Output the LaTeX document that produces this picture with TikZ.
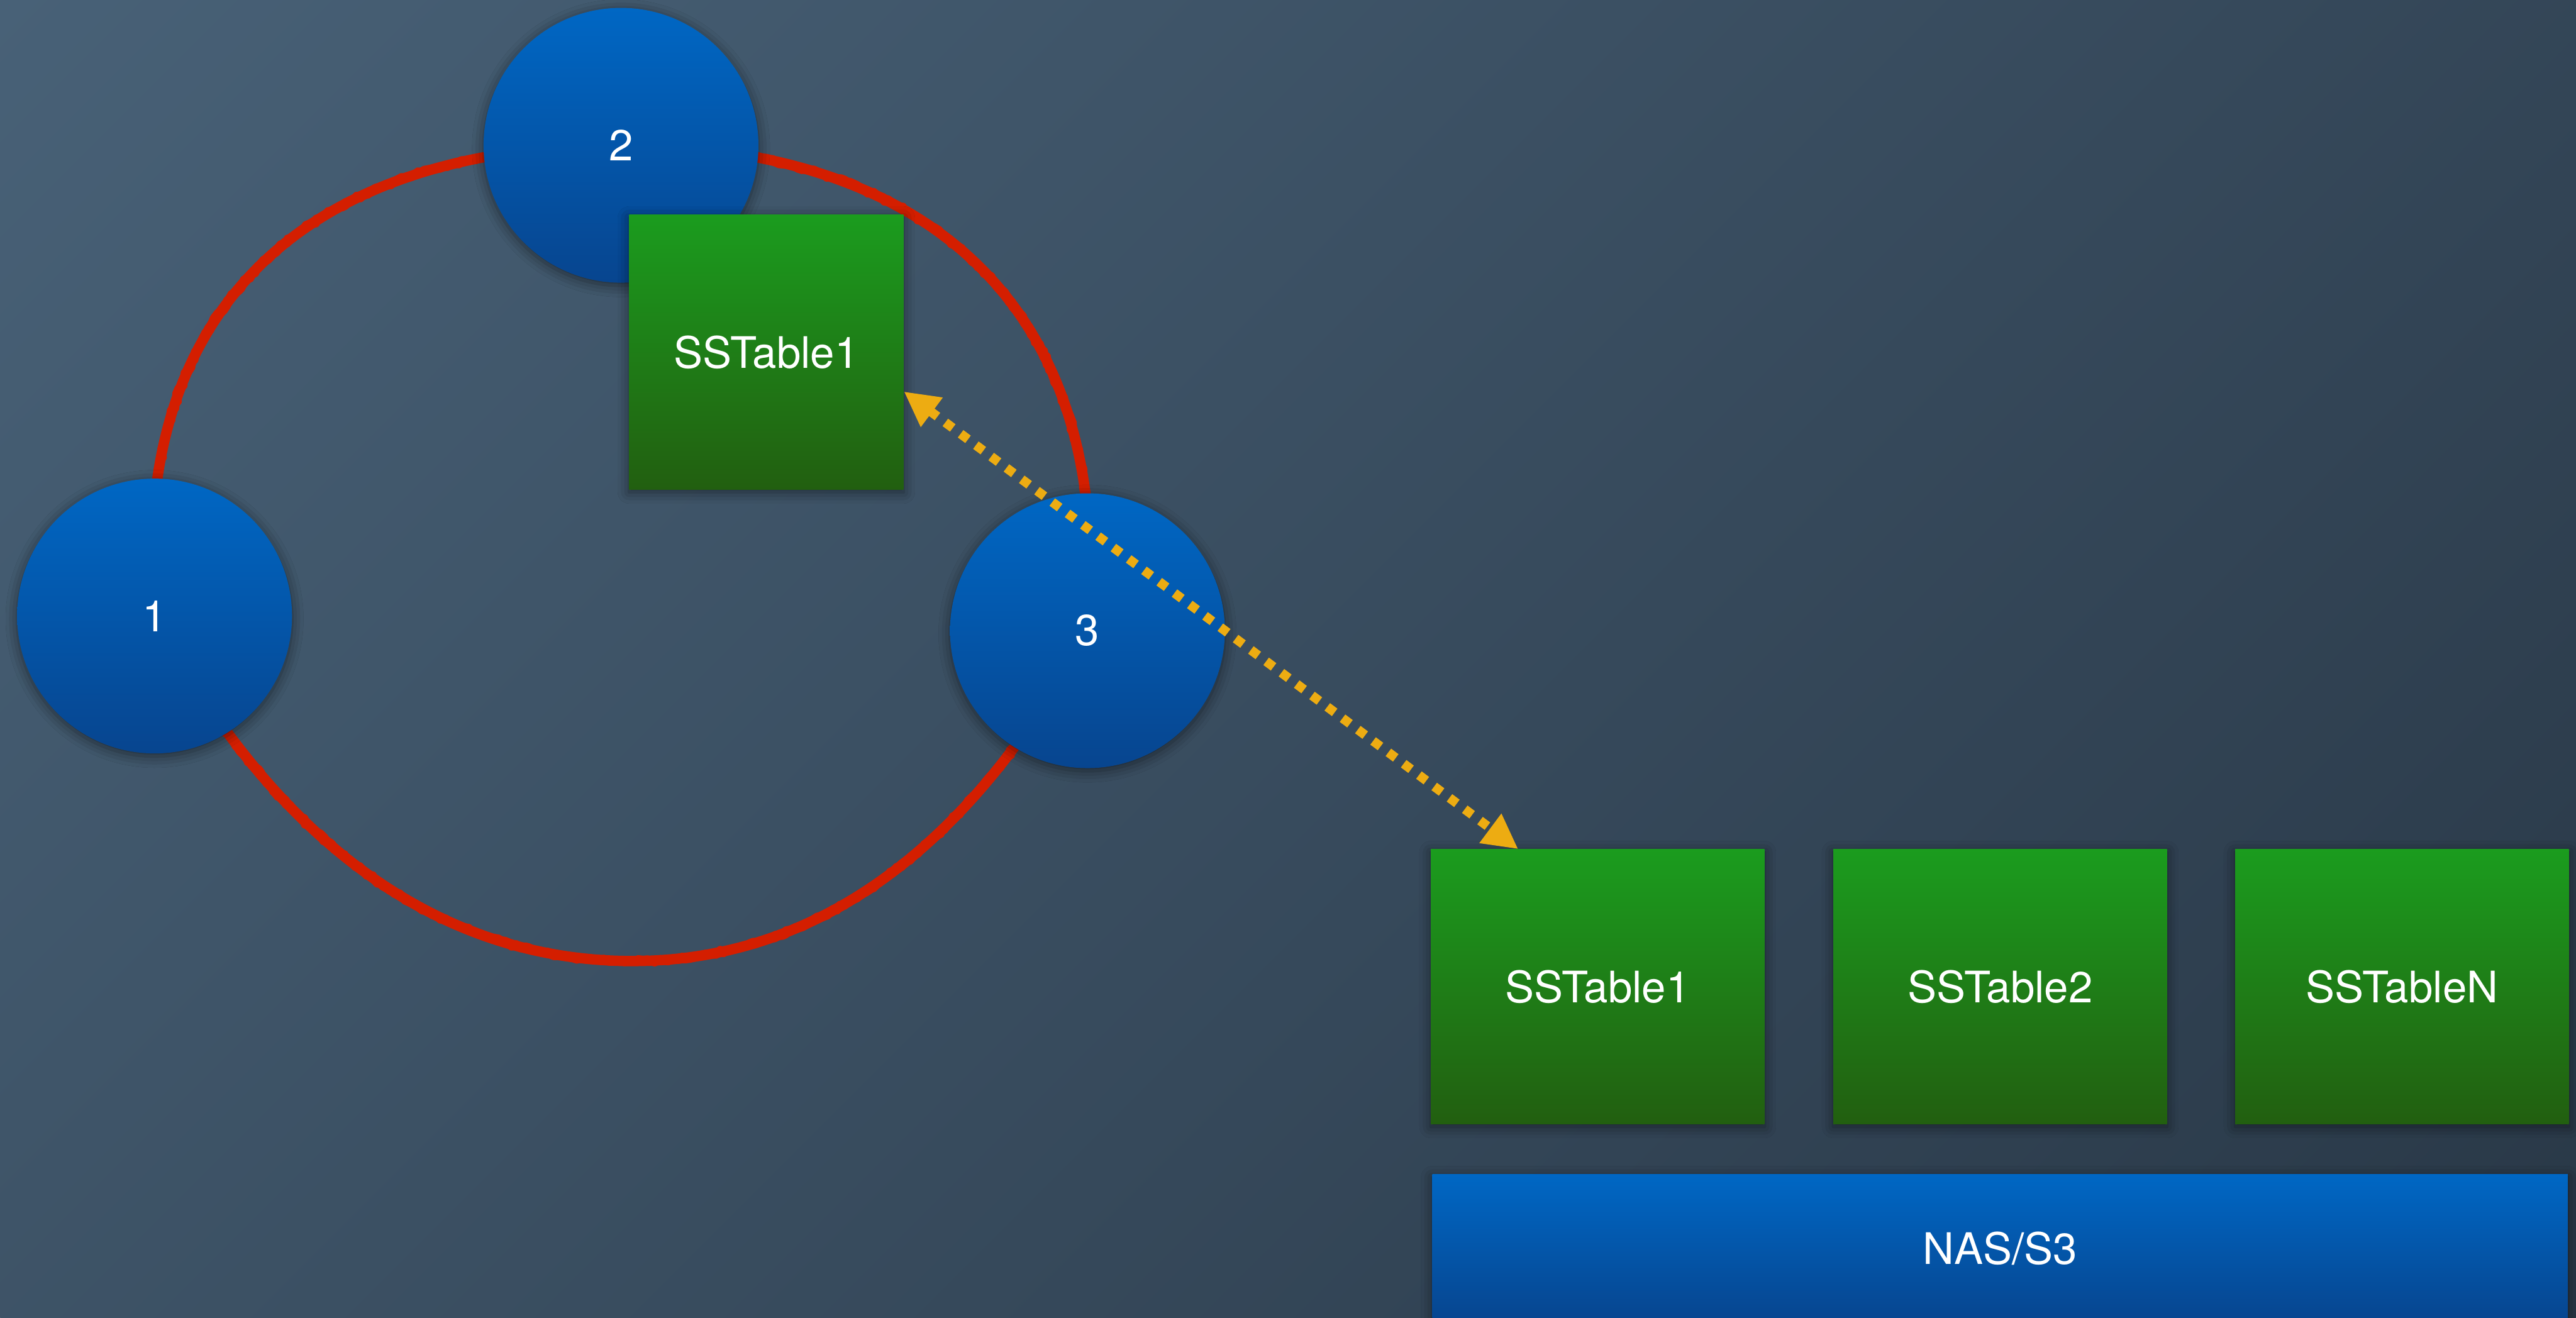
\documentclass[tikz,border=0pt]{standalone}
\usepackage{fontspec}
\setmainfont{TeX Gyre Heros}
\usepackage{xcolor}
\usetikzlibrary{positioning, arrows.meta, shadows.blur, backgrounds, decorations.pathmorphing}
\definecolor{slatetop}{HTML}{486177}
\definecolor{slatebot}{HTML}{293847}
\definecolor{ringred}{HTML}{D41E00}
\definecolor{nodeblue}{HTML}{0067C4}
\definecolor{nodeblue2}{HTML}{07458F}
\definecolor{tablegreen}{HTML}{1B9C1E}
\definecolor{tablegreen2}{HTML}{225F10}
\definecolor{linkorange}{HTML}{EDAC12}

\begin{document}
\begin{tikzpicture}[
        node distance=1.25cm,
        every node/.style={text=white, font=\fontsize{22.7}{27}\selectfont, inner sep=0pt},
        softshadow/.style={blur shadow={shadow xshift=0pt, shadow yshift=-1.5pt, shadow blur radius=6pt, shadow opacity=50}},
        replica/.style={circle, minimum size=5.05cm, top color=nodeblue, bottom color=nodeblue2, softshadow},
        sstable/.style={rectangle, minimum width=#1, minimum height=5.04cm, top color=tablegreen, bottom color=tablegreen2, softshadow},
        store/.style={rectangle, minimum width=20.86cm, minimum height=2.72cm, top color=nodeblue, bottom color=nodeblue2, softshadow},
        ring/.style={ringred, line width=0.19cm, line cap=round},
        ringedge/.style={ringred, line width=0.15cm, line join=round, line cap=round, decorate, decoration={random steps, segment length=2pt, amplitude=1.1pt}},
        link/.style={{Triangle[length=0.64cm, width=0.63cm]}-{Triangle[length=0.64cm, width=0.63cm]}, linkorange, line width=0.17cm, dash pattern=on 0.17cm off 0.18cm}
    ]

    \useasboundingbox (0,0) rectangle (47.33,-24.21);
    \clip (0,0) rectangle (47.33,-24.21);

    % Ring of replicas
    \node[replica] (n1) at (2.84,-11.32) {1};
    \node[replica] (n2) at (11.41,-2.67) {2};
    \node[replica] (n3) at (19.98,-11.59) {3};
    \node[sstable=5.04cm] (local) at (14.08,-6.47) {SSTable1};

    % Row of stored tables and the backing store
    \node[sstable=6.13cm] (sst1) at (29.355,-18.13) {SSTable1};
    \node[sstable=6.13cm, right=of sst1] (sst2) {SSTable2};
    \node[sstable=6.13cm, right=1.24cm of sst2] (sstn) {SSTableN};
    \node[store, below=0.92cm of sst2] (nas) {NAS/S3};

    \begin{scope}[on background layer]
        % diagonal backdrop, light at top left
        \coordinate (mid) at (23.665,-12.105);
        \shade[top color=slatetop, bottom color=slatebot, transform canvas={rotate around={45:(mid)}}]
            (-1.63,-37.4) rectangle (48.96,13.19);
        \coordinate (ringbot) at (11.62,-17.66);
        \draw[ring] (n1.center) to[out=95, in=180, looseness=1.2] (n2.center)
            to[out=0, in=85, looseness=1.2] (n3.center)
            to[out=-118, in=0, looseness=0.95] (ringbot)
            to[out=180, in=-62, looseness=0.95] (n1.center);
        \draw[ringedge] (n1.center) to[out=95, in=180, looseness=1.2] (n2.center)
            to[out=0, in=85, looseness=1.2] (n3.center)
            to[out=-118, in=0, looseness=0.95] (ringbot)
            to[out=180, in=-62, looseness=0.95] (n1.center);
    \end{scope}

    % Copy between replica table and store
    \draw[link] (local.-16) -- (sst1.120);

\end{tikzpicture}
\end{document}
